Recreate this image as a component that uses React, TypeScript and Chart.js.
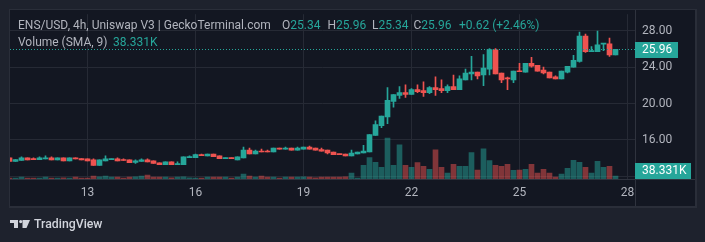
import React, { useEffect, useRef } from "react";
import { Chart, registerables } from "chart.js";

Chart.register(...registerables);

// ---- data ----
const START_DAY = 10 + 20 / 24; // first 4h candle: day 10, 20:00
const CANDLE_HOURS = 4;

const OPEN = [
  14.03, 13.64, 13.75, 14.03, 13.96, 13.85, 13.92, 14.03, 13.82, 14.03,
  13.71, 14.03, 13.96, 13.92, 13.82, 13.21, 13.71, 13.85, 13.92, 13.85,
  13.82, 13.53, 13.64, 13.82, 13.71, 13.5, 13.28, 13.6, 13.3, 13.28,
  14.07, 14.07, 14.39, 14.25, 14.46, 14.25, 13.96, 14.03, 13.82, 14.03,
  14.89, 14.46, 14.78, 14.78, 14.68, 15.1, 15.0, 15.1, 14.89, 15.0,
  15.21, 15.1, 14.96, 14.89, 14.68, 14.46, 14.46, 14.25, 14.46, 14.57,
  14.68, 16.5, 17.57, 18.54, 20.25, 20.89, 21.21, 21.0, 21.54, 21.43,
  21.21, 21.75, 21.64, 21.43, 21.86, 21.54, 22.6, 23.25, 23.46, 23.14,
  23.79, 25.9, 23.36, 22.82, 22.6, 23.57, 23.46, 24.43, 24.21, 23.68,
  23.46, 22.93, 22.71, 23.46, 24.0, 24.64, 27.43, 25.71, 25.71, 26.54,
  26.57, 25.34,
];
const HIGH = [
  14.03, 13.85, 14.14, 14.03, 14.03, 14.14, 14.25, 14.14, 14.03, 14.03,
  14.03, 14.03, 13.96, 13.92, 13.92, 13.82, 14.25, 13.92, 14.03, 13.92,
  13.82, 13.82, 13.92, 13.92, 13.71, 13.5, 13.6, 13.6, 13.6, 14.14,
  14.25, 14.46, 14.46, 14.46, 14.46, 14.25, 14.03, 14.03, 14.14, 15.21,
  15.1, 14.89, 15.0, 14.89, 15.1, 15.1, 15.21, 15.1, 15.21, 15.21,
  15.32, 15.1, 15.1, 14.89, 14.68, 14.46, 14.46, 14.89, 14.68, 15.42,
  16.6, 18.1, 18.64, 21.75, 21.0, 21.86, 22.07, 21.64, 22.07, 22.39,
  21.86, 22.93, 22.6, 22.07, 23.14, 23.04, 23.79, 25.18, 23.46, 25.39,
  26.04, 26.04, 23.36, 22.9, 23.57, 24.43, 24.43, 25.07, 24.21, 24.0,
  23.46, 23.04, 23.57, 24.1, 25.29, 27.86, 27.64, 26.25, 27.96, 26.57,
  27.21, 25.96,
];
const LOW = [
  13.64, 13.64, 13.75, 13.82, 13.85, 13.85, 13.92, 13.82, 13.82, 13.71,
  13.71, 13.92, 13.82, 13.71, 13.21, 13.21, 13.71, 13.85, 13.71, 13.75,
  13.5, 13.42, 13.64, 13.6, 13.42, 13.28, 13.28, 13.28, 13.3, 13.28,
  14.07, 14.07, 14.28, 14.25, 14.18, 13.96, 13.96, 13.96, 13.82, 14.03,
  14.46, 14.46, 14.68, 14.68, 14.68, 15.0, 15.0, 14.89, 14.89, 15.0,
  15.0, 14.89, 14.78, 14.46, 14.39, 14.39, 14.25, 14.25, 14.46, 14.57,
  14.68, 16.5, 17.36, 17.79, 19.6, 20.57, 20.68, 21.0, 21.21, 20.79,
  21.1, 20.9, 21.21, 21.21, 21.54, 21.54, 22.6, 22.6, 22.71, 21.96,
  23.14, 23.25, 22.29, 21.54, 22.29, 23.5, 23.46, 24.0, 23.57, 23.25,
  22.82, 22.71, 22.71, 23.36, 24.0, 24.54, 25.61, 25.71, 25.71, 25.82,
  25.18, 25.34,
];
const CLOSE = [
  13.64, 13.85, 14.03, 13.82, 13.85, 14.03, 14.03, 13.82, 14.03, 13.71,
  14.03, 13.92, 13.82, 13.71, 13.21, 13.82, 13.92, 13.92, 13.71, 13.75,
  13.5, 13.71, 13.82, 13.6, 13.42, 13.28, 13.6, 13.28, 13.35, 14.14,
  14.18, 14.39, 14.28, 14.46, 14.18, 13.96, 14.03, 13.96, 14.14, 14.89,
  14.46, 14.78, 14.68, 14.68, 15.1, 15.0, 15.1, 14.89, 15.1, 15.21,
  15.0, 14.89, 14.78, 14.57, 14.39, 14.39, 14.25, 14.57, 14.68, 14.78,
  16.6, 17.68, 18.64, 20.36, 21.0, 21.21, 21.0, 21.54, 21.32, 21.21,
  21.75, 21.54, 21.43, 21.86, 21.54, 22.71, 23.36, 23.46, 23.04, 23.89,
  25.93, 23.25, 22.6, 22.71, 23.57, 23.5, 24.43, 24.1, 23.57, 23.36,
  22.82, 22.71, 23.57, 24.1, 24.75, 27.43, 25.71, 25.82, 26.46, 26.57,
  25.34, 25.96,
];
const VOLUME_K = [
  12.4, 13.1, 24.8, 12.0, 11.5, 13.6, 23.9, 12.7, 11.9, 14.2,
  12.3, 25.6, 13.0, 12.2, 39.5, 27.1, 36.8, 24.3, 26.0, 13.4,
  25.1, 27.8, 37.2, 51.6, 25.9, 24.6, 26.4, 14.1, 25.3, 27.0,
  13.8, 12.9, 13.5, 26.2, 24.1, 25.7, 23.6, 12.6, 26.8, 64.3,
  38.4, 25.4, 37.9, 26.6, 24.9, 13.2, 25.8, 26.3, 24.4, 27.3,
  25.0, 13.7, 26.1, 24.7, 25.5, 23.8, 26.9, 76.7, 12.8, 179.4,
  281.2, 217.3, 153.6, 536.9, 178.2, 447.5, 180.1, 152.8, 216.4, 166.9,
  127.6, 383.4, 154.2, 77.3, 191.8, 165.7, 167.2, 344.9, 115.3, 396.2,
  242.7, 179.0, 166.3, 192.4, 114.6, 116.0, 128.3, 190.9, 76.2, 127.9,
  77.8, 25.2, 63.9, 140.7, 243.5, 218.1, 153.1, 76.9, 230.4, 152.4,
  166.0, 38.331,
];

const X_TICKS = [13, 16, 19, 22, 25, 28];
const Y_TICKS = [12, 16, 20, 24, 28];

const TITLE = "ENS/USD, 4h, Uniswap V3 | GeckoTerminal.com";
const LEGEND_O = "25.34";
const LEGEND_H = "25.96";
const LEGEND_L = "25.34";
const LEGEND_C = "25.96";
const LEGEND_CHANGE = "+0.62 (+2.46%)";
const VOL_TITLE = "Volume (SMA, 9)";
const VOL_VALUE = "38.331K";
const BRAND = "TradingView";

// ---- styles ----
const UP = "#26a69a";
const DOWN = "#ef5350";
const UP_VOL = "rgba(38,166,154,0.5)";
const DOWN_VOL = "rgba(239,83,80,0.5)";
const OUTER_BG = "#1e222d";
const PANE_BG = "#131722";
const BORDER = "#2a2e39";
const GRID = "#262a35";
const SEP = "#2f333e";
const TEXT = "#b2b5be";
const FONT = "Roboto, sans-serif";

const tvPlugin = {
  id: "tvDecor",
  beforeDraw(chart: any) {
    const { ctx, width, height } = chart;
    ctx.save();
    ctx.fillStyle = OUTER_BG;
    ctx.fillRect(0, 0, width, height);
    ctx.fillStyle = BORDER;
    ctx.fillRect(9, 9, 688, 199);
    ctx.fillStyle = PANE_BG;
    ctx.fillRect(10, 10, 685, 196);
    ctx.restore();
  },
  afterDraw(chart: any) {
    const { ctx, chartArea } = chart;
    const yScale = chart.scales.y;
    const last = CLOSE.length - 1;
    ctx.save();

    // separators
    ctx.strokeStyle = SEP;
    ctx.lineWidth = 1;
    ctx.beginPath();
    ctx.moveTo(chartArea.right + 0.5, 10);
    ctx.lineTo(chartArea.right + 0.5, 206);
    ctx.moveTo(10, chartArea.bottom + 0.5);
    ctx.lineTo(695, chartArea.bottom + 0.5);
    ctx.stroke();

    // last price dotted line
    const py = Math.round(yScale.getPixelForValue(CLOSE[last])) + 0.5;
    const lastUp = CLOSE[last] >= OPEN[last];
    const lastColor = lastUp ? UP : DOWN;
    ctx.strokeStyle = lastColor;
    ctx.setLineDash([1, 2]);
    ctx.beginPath();
    ctx.moveTo(chartArea.left, py);
    ctx.lineTo(chartArea.right, py);
    ctx.stroke();
    ctx.setLineDash([]);

    // price label box
    ctx.font = `12px ${FONT}`;
    ctx.textBaseline = "middle";
    ctx.fillStyle = lastColor;
    ctx.fillRect(chartArea.right, Math.round(py) - 8, 43, 16);
    ctx.fillStyle = "#ffffff";
    ctx.fillText(CLOSE[last].toFixed(2), chartArea.right + 7, Math.round(py));

    // volume label box
    ctx.fillStyle = lastColor;
    ctx.fillRect(chartArea.right, chartArea.bottom - 16, 56, 16);
    ctx.fillStyle = "#ffffff";
    ctx.fillText(VOL_VALUE, chartArea.right + 7, chartArea.bottom - 8);

    // legend
    ctx.textBaseline = "alphabetic";
    const pair = (label: string, value: string, x: number, y: number) => {
      ctx.fillStyle = TEXT;
      ctx.fillText(label, x, y);
      const w = label ? ctx.measureText(label).width : 0;
      ctx.fillStyle = lastColor;
      ctx.fillText(value, x + w, y);
    };
    const y1 = 29;
    ctx.fillStyle = TEXT;
    ctx.fillText(TITLE, 18, y1);
    pair("O", LEGEND_O, 282, y1);
    pair("H", LEGEND_H, 327.5, y1);
    pair("L", LEGEND_L, 372, y1);
    pair("C", LEGEND_C, 413.5, y1);
    pair("", LEGEND_CHANGE, 459, y1);

    const y2 = 46;
    ctx.fillStyle = TEXT;
    ctx.fillText(VOL_TITLE, 18, y2);
    ctx.fillStyle = lastColor;
    ctx.fillText(VOL_VALUE, 113, y2);

    // brand logo
    ctx.fillStyle = "#d1d4dc";
    ctx.fillRect(10, 220, 8, 3);
    ctx.fillRect(14, 220, 4, 8);
    ctx.beginPath();
    ctx.arc(20.7, 221.6, 1.6, 0, Math.PI * 2);
    ctx.fill();
    ctx.beginPath();
    ctx.moveTo(22.5, 220);
    ctx.lineTo(30, 220);
    ctx.lineTo(26.5, 228);
    ctx.lineTo(22.5, 228);
    ctx.closePath();
    ctx.fill();
    ctx.font = `500 12.3px ${FONT}`;
    ctx.fillText(BRAND, 34, 228);

    ctx.restore();
  },
};

export default function App() {
  const ref = useRef<HTMLCanvasElement | null>(null);

  useEffect(() => {
    if (!ref.current) return;
    const times = OPEN.map((_, i) => START_DAY + (i * CANDLE_HOURS) / 24);
    const candleColors = OPEN.map((o, i) => (CLOSE[i] >= o ? UP : DOWN));
    const volColors = OPEN.map((o, i) => (CLOSE[i] >= o ? UP_VOL : DOWN_VOL));

    const chart = new Chart(ref.current, {
      type: "bar",
      data: {
        datasets: [
          {
            label: "volume",
            yAxisID: "vol",
            data: times.map((t, i) => ({ x: t, y: VOLUME_K[i] })),
            backgroundColor: volColors,
            barThickness: 5,
            grouped: false,
            order: 3,
            clip: 0,
          } as any,
          {
            label: "wick",
            yAxisID: "y",
            data: times.map((t, i) => ({ x: t, y: [LOW[i], HIGH[i]] })),
            backgroundColor: candleColors,
            barThickness: 1,
            grouped: false,
            order: 2,
            clip: 0,
          } as any,
          {
            label: "body",
            yAxisID: "y",
            data: times.map((t, i) => ({ x: t, y: [OPEN[i], CLOSE[i]] })),
            backgroundColor: candleColors,
            barThickness: 5,
            minBarLength: 1,
            grouped: false,
            order: 1,
            clip: 0,
          } as any,
        ],
      },
      options: {
        responsive: false,
        animation: false,
        devicePixelRatio: 1,
        layout: { padding: { left: 10, right: 10, top: 10, bottom: 36 } },
        plugins: {
          legend: { display: false },
          tooltip: { enabled: false },
        },
        scales: {
          x: {
            type: "linear",
            min: 10.8472,
            max: 28.2083,
            offset: false,
            grid: { color: GRID, drawTicks: false, offset: false },
            border: { display: false },
            afterBuildTicks: (s: any) => {
              s.ticks = X_TICKS.map((v) => ({ value: v }));
            },
            afterFit: (s: any) => {
              s.height = 27;
            },
            ticks: {
              color: TEXT,
              font: { family: FONT, size: 12 },
              padding: 7,
              maxRotation: 0,
              autoSkip: false,
              callback: (v: any) => String(v),
            },
          },
          y: {
            type: "linear",
            position: "right",
            min: 11.714,
            max: 29.821,
            grid: { color: GRID, drawTicks: false },
            border: { display: false },
            afterBuildTicks: (s: any) => {
              s.ticks = Y_TICKS.map((v) => ({ value: v }));
            },
            afterFit: (s: any) => {
              s.width = 60;
            },
            ticks: {
              color: TEXT,
              font: { family: FONT, size: 12 },
              padding: 7,
              callback: (v: any) => Number(v).toFixed(2),
            },
          },
          vol: {
            type: "linear",
            display: false,
            min: 0,
            max: 2160,
          },
        },
      } as any,
      plugins: [tvPlugin],
    });
    return () => chart.destroy();
  }, []);

  return (
    <div style={{ position: "fixed", left: 0, top: 0, width: 705, height: 242 }}>
      <canvas ref={ref} width={705} height={242} style={{ display: "block" }} />
    </div>
  );
}
